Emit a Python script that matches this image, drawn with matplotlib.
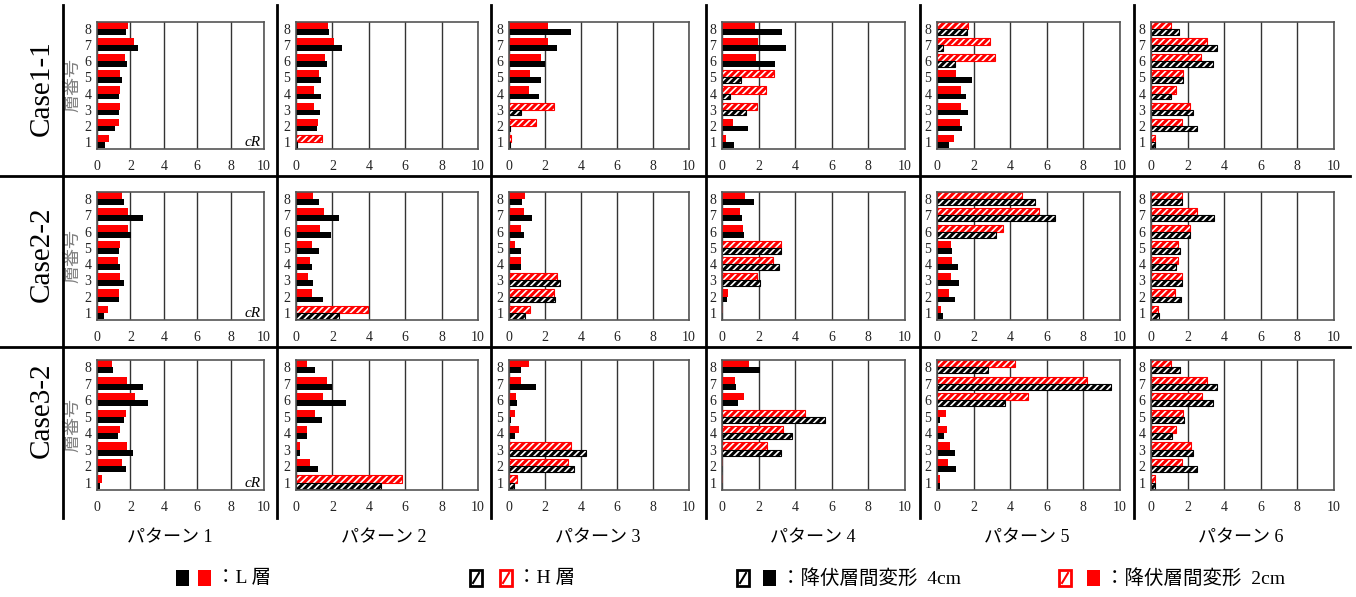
import matplotlib
matplotlib.use("Agg")
import matplotlib.pyplot as plt
from matplotlib.patches import Rectangle
from matplotlib.lines import Line2D
import numpy as np

plt.rcParams['font.family'] = ['Liberation Serif', 'Noto Sans CJK JP']
plt.rcParams['hatch.linewidth'] = 2.2

# 層番号 1..8, パターン 1..6 ; red = 降伏層間変形 2cm, black = 4cm
floors = np.arange(1, 9)
patterns = ['パターン 1', 'パターン 2', 'パターン 3', 'パターン 4', 'パターン 5', 'パターン 6']
cases = ['Case1-1', 'Case2-2', 'Case3-2']
# floors treated as H層 in each pattern (hatched bars)
h_floors = [[], [1], [1, 2, 3], [3, 4, 5], [6, 7, 8], [1, 2, 3, 4, 5, 6, 7, 8]]

c11_red = [[0.70, 1.31, 1.39, 1.35, 1.35, 1.69, 2.23, 1.85],
           [1.43, 1.21, 1.01, 1.01, 1.26, 1.61, 2.08, 1.76],
           [0.09, 1.48, 2.51, 1.13, 1.16, 1.76, 2.14, 2.14],
           [0.24, 0.62, 1.92, 2.41, 2.83, 1.88, 1.97, 1.79],
           [0.91, 1.27, 1.33, 1.33, 1.04, 3.15, 2.91, 1.69],
           [0.22, 1.69, 2.15, 1.36, 1.75, 2.75, 3.05, 1.07]]
c11_black = [[0.48, 1.09, 1.33, 1.33, 1.49, 1.79, 2.45, 1.73],
             [0.03, 1.17, 1.30, 1.35, 1.39, 1.70, 2.52, 1.79],
             [0.03, 0.03, 0.65, 1.66, 1.77, 2.00, 2.64, 3.44],
             [0.66, 1.41, 1.33, 0.44, 1.06, 2.88, 3.49, 3.28],
             [0.65, 1.38, 1.69, 1.60, 1.91, 0.98, 0.33, 1.64],
             [0.22, 2.53, 2.27, 1.11, 1.75, 3.38, 3.60, 1.53]]

c22_red = [[0.63, 1.34, 1.38, 1.24, 1.36, 1.83, 1.83, 1.48],
           [3.96, 0.89, 0.64, 0.77, 0.89, 1.30, 1.52, 0.95],
           [1.15, 2.50, 2.65, 0.64, 0.36, 0.69, 0.86, 0.89],
           [0.04, 0.33, 1.91, 2.78, 3.22, 1.16, 0.98, 1.25],
           [0.20, 0.67, 0.76, 0.80, 0.76, 3.59, 5.59, 4.65],
           [0.40, 1.30, 1.72, 1.45, 1.50, 2.12, 2.49, 1.68]]
c22_black = [[0.41, 1.34, 1.63, 1.38, 1.34, 2.05, 2.76, 1.63],
             [2.34, 1.48, 0.95, 0.89, 1.24, 1.90, 2.34, 1.26],
             [0.89, 2.54, 2.81, 0.69, 0.64, 0.84, 1.30, 0.71],
             [0.04, 0.27, 2.07, 3.09, 3.22, 1.22, 1.11, 1.73],
             [0.33, 0.98, 1.20, 1.14, 0.80, 3.25, 6.44, 5.35],
             [0.46, 1.63, 1.72, 1.39, 1.58, 2.12, 3.42, 1.68]]

c32_red = [[0.30, 1.52, 1.78, 1.38, 1.72, 2.27, 1.78, 0.89],
           [5.84, 0.75, 0.21, 0.63, 1.02, 1.50, 1.71, 0.63],
           [0.43, 3.25, 3.42, 0.56, 0.31, 0.38, 0.65, 1.12],
           [0.05, 0.05, 2.45, 3.32, 4.53, 1.21, 0.69, 1.49],
           [0.15, 0.58, 0.71, 0.55, 0.49, 4.97, 8.20, 4.26],
           [0.24, 1.69, 2.18, 1.38, 1.76, 2.78, 3.07, 1.07]]
c32_black = [[0.16, 1.72, 2.13, 1.25, 1.62, 3.06, 2.73, 0.93],
             [4.68, 1.20, 0.21, 0.63, 1.45, 2.77, 1.98, 1.02],
             [0.27, 3.63, 4.29, 0.34, 0.11, 0.43, 1.52, 0.65],
             [0.04, 0.07, 3.21, 3.82, 5.65, 0.87, 0.78, 2.08],
             [0.15, 1.02, 0.97, 0.40, 0.18, 3.72, 9.49, 2.81],
             [0.24, 2.54, 2.29, 1.14, 1.80, 3.41, 3.63, 1.58]]

red_sets = [c11_red, c22_red, c32_red]
black_sets = [c11_black, c22_black, c32_black]

RED = '#ff0000'
W, H = 1356, 597
fig = plt.figure(figsize=(W / 100, H / 100), dpi=100)

# panel edges in pixels
col_left = [97, 296, 509, 722, 937, 1151]
col_right = [264, 478, 689, 905, 1120, 1334]
row_top = [22, 192, 360]
row_bot = [149, 320, 490]


def px_box(l, t, r, b):
    return [l / W, 1 - b / H, (r - l) / W, (b - t) / H]


for i in range(3):
    for j in range(6):
        ax = fig.add_axes(px_box(col_left[j], row_top[i], col_right[j], row_bot[i]))
        ax.set_axisbelow(True)
        hatched = np.isin(floors, h_floors[j])
        rb = ax.barh(floors + 0.22, red_sets[i][j], height=0.44, color=RED, lw=0)
        kb = ax.barh(floors - 0.18, black_sets[i][j], height=0.36, color='black', lw=0)
        for pr, pk, h in zip(rb, kb, hatched):
            if h:
                pr.set(facecolor='white', edgecolor=RED, hatch='/////', lw=0.8)
                pk.set(facecolor='white', edgecolor='black', hatch='/////', lw=0.8)
        ax.set_xlim(0, 10)
        ax.set_ylim(0.55, 8.45)
        ax.set_xticks([0, 2, 4, 6, 8, 10])
        ax.set_yticks(floors)
        ax.grid(axis='x', color='#333333', lw=1.0)
        ax.tick_params(length=0, labelsize=10, colors='#222222')
        ax.tick_params(axis='x', pad=8)
        ax.tick_params(axis='y', pad=4)
        for s in ax.spines.values():
            s.set_color('#555555')
            s.set_linewidth(1.2)
        if j == 0:
            ax.text(-0.145, 0.5, '層番号', transform=ax.transAxes, rotation=90,
                    ha='center', va='center', fontsize=13, color='#7f7f7f')
            ax.text(0.93, 0.0, 'cR', transform=ax.transAxes, ha='center', va='bottom',
                    fontsize=11, style='italic')

# row labels
for y, name in zip([88, 254, 410], cases):
    fig.text(42 / W, 1 - y / H, name, rotation=90, ha='center', va='center', fontsize=21)

# column labels
for x, name in zip([170, 384, 598, 813, 1027, 1241], patterns):
    fig.text(x / W, 1 - 538 / H, name, ha='center', va='center', fontsize=13)

# table rules
for x in [63, 277, 491, 706, 920, 1134]:
    fig.add_artist(Line2D([x / W, x / W], [1 - 5 / H, 1 - 518 / H],
                          transform=fig.transFigure, color='black', lw=2))
for y in [176, 347]:
    fig.add_artist(Line2D([0, 1350 / W], [1 - y / H, 1 - y / H],
                          transform=fig.transFigure, color='black', lw=2))

# legend
ly = 578


def key(x, color, hatch):
    if hatch:
        r = Rectangle((x / W, 1 - (ly + 8) / H), 12 / W, 16 / H, transform=fig.transFigure,
                      facecolor='white', edgecolor=color, lw=2)
        fig.add_artist(r)
        # single diagonal stroke inside the key box
        fig.add_artist(Line2D([(x + 3) / W, (x + 9) / W], [1 - (ly + 5) / H, 1 - (ly - 5) / H],
                              transform=fig.transFigure, color=color, lw=1.5))
    else:
        r = Rectangle((x / W, 1 - (ly + 8) / H), 13 / W, 16 / H, transform=fig.transFigure,
                      facecolor=color, edgecolor=color, lw=0)
        fig.add_artist(r)


key(176, 'black', False)
key(198, RED, False)
fig.text(216 / W, 1 - ly / H, '：L 層', ha='left', va='center', fontsize=14)
key(470, 'black', True)
key(500, RED, True)
fig.text(517 / W, 1 - ly / H, '：H 層', ha='left', va='center', fontsize=14)
key(737, 'black', True)
key(763, 'black', False)
fig.text(781 / W, 1 - ly / H, '：降伏層間変形  4cm', ha='left', va='center', fontsize=14)
key(1059, RED, True)
key(1087, RED, False)
fig.text(1105 / W, 1 - ly / H, '：降伏層間変形  2cm', ha='left', va='center', fontsize=14)

fig.savefig('out.png', dpi=100)
